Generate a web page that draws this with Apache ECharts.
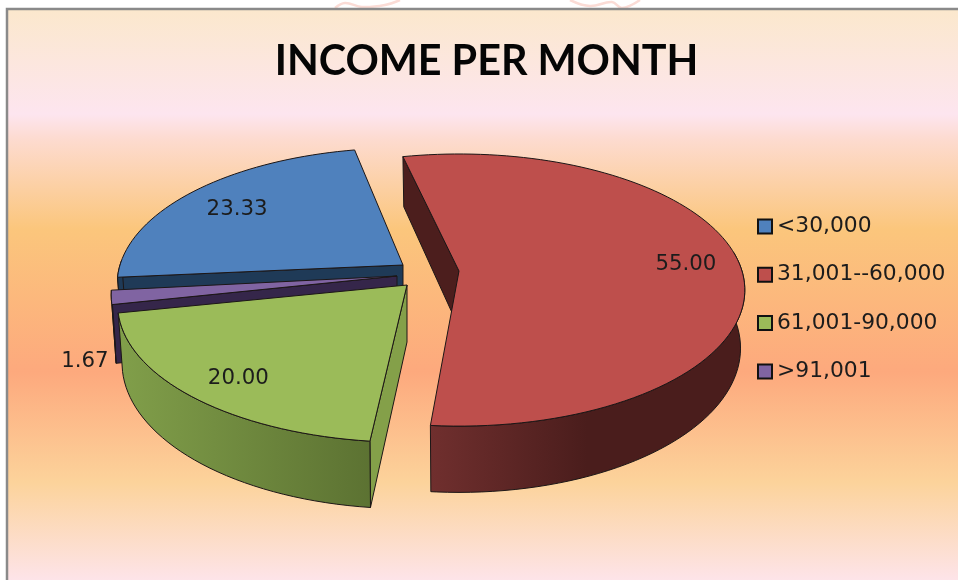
<!DOCTYPE html>
<html>
<head>
<meta charset="utf-8">
<style>
  html, body { margin: 0; padding: 0; background: #fff; }
  #main { width: 958px; height: 580px; }
</style>
<script src="https://cdn.jsdelivr.net/npm/echarts@6/dist/echarts.min.js"></script>
</head>
<body>
<div id="main"></div>
<script>
const categories = ['<30,000', '31,001--60,000', '61,001-90,000', '>91,001']
const percentValues = [23.33, 55.00, 20.00, 1.67]

const topColors = ['#4f81bd', '#be4f4c', '#9bbb59', '#8064a2']
const wallColors = [
  ['#1f3a57', '#1f3a57'],
  ['#702f2e', '#4a1d1c'],
  ['#819f4a', '#5c7232'],
  ['#35264a', '#35264a']
]
const radialColors = ['#1f3a57', '#4c1e1d', '#84a049', '#35264a']

// where each exploded slice has its tip, in px
const sliceTips = [[403, 265], [459, 271], [407, 285], [397, 276]]
// small per slice corrections, the picture has some distortion
const sliceTurn = [0.8, -1, 0.4, 0]
const sliceScale = [1, 1, 1.012, 1]
const labelRadius = [0.78, 0.81, 0.81, 1.09]
const labelDrop = [3, 1, 6, 62]
const drawOrder = [1, 4, 3, 2]

const firstAngle = 264
const radiusX = 283
const radiusY = 133.4
const perspective = 0.14
const depth = 57
const total = percentValues.reduce((a, b) => a + b, 0)

function topPoint (tip, deg, r) {
  const t = deg * Math.PI / 180
  const X = r * Math.sin(t)
  const Y = -r * Math.cos(t)
  const s = 1 / (1 - perspective * Y)
  return [tip[0] + radiusX * X * s, tip[1] + radiusY * Y * s]
}

function bottomPoint (tip, deg, r) {
  const t = deg * Math.PI / 180
  const X = r * Math.sin(t)
  const Y = -r * Math.cos(t)
  const s = 1 / (1 - perspective * Y)
  return [tip[0] + radiusX * X * s * 0.985, tip[1] + radiusY * Y * s + depth * s]
}

function range (from, to) {
  const out = []
  for (let d = from; d < to; d += 2) out.push(d)
  out.push(to)
  return out
}

const edge = { stroke: '#1c1616', lineWidth: 1 }

function renderSlice (params, api) {
  const i = params.seriesIndex
  const tip = sliceTips[i]
  const r = sliceScale[i]
  let start = firstAngle
  for (let k = 0; k < i; k++) start += percentValues[k] / total * 360
  const end = start + api.value(0) / total * 360 + sliceTurn[i]
  start += sliceTurn[i]
  const children = []

  // radial wall on the leading edge
  const nrm = (start - 90) * Math.PI / 180
  if (Math.cos(nrm) < 0) {
    children.push({
      type: 'polygon',
      shape: { points: [tip, topPoint(tip, start, r), bottomPoint(tip, start, r), [tip[0], tip[1] + depth]] },
      style: Object.assign({ fill: radialColors[i] }, edge)
    })
  }

  // outer curved wall, only the part turned to the viewer
  const segs = [[82, 272], [442, 632]]
  segs.forEach(function (seg) {
    const a = Math.max(start, seg[0])
    const b = Math.min(end, seg[1])
    if (b <= a) return
    const angles = range(a, b)
    const pts = angles.map(d => topPoint(tip, d, r))
      .concat(angles.slice().reverse().map(d => bottomPoint(tip, d, r)))
    children.push({
      type: 'polygon',
      shape: { points: pts },
      style: Object.assign({
        fill: {
          type: 'linear', x: 0, y: 0, x2: 1, y2: 0,
          colorStops: i === 1
            ? [{ offset: 0, color: wallColors[i][0] }, { offset: 0.5, color: wallColors[i][1] }, { offset: 1, color: wallColors[i][1] }]
            : [{ offset: 0, color: wallColors[i][0] }, { offset: 1, color: wallColors[i][1] }]
        }
      }, edge)
    })
  })

  // top face
  const face = [tip].concat(range(start, end).map(d => topPoint(tip, d, r)))
  children.push({
    type: 'polygon',
    shape: { points: face },
    style: Object.assign({ fill: topColors[i] }, edge)
  })

  // value label
  const mid = (start + end) / 2
  const lp = topPoint(tip, mid, labelRadius[i])
  children.push({
    type: 'text',
    x: lp[0],
    y: lp[1] + labelDrop[i],
    style: {
      text: api.value(0).toFixed(2),
      fill: '#1c1c1c',
      font: '21.3px "DejaVu Sans"',
      align: 'center',
      verticalAlign: 'middle'
    }
  })
  return { type: 'group', children: children }
}

const myChart = echarts.init(document.getElementById('main'))
myChart.setOption({
  animation: false,
  title: {
    text: 'INCOME PER MONTH',
    left: 481.5,
    top: 36,
    textAlign: 'center',
    textStyle: { fontFamily: 'Lato', fontSize: 41.3, fontWeight: 'bold', color: '#050505' }
  },
  legend: {
    orient: 'vertical',
    left: 752,
    top: 209.5,
    itemWidth: 14,
    itemHeight: 14,
    itemGap: 24.3,
    icon: 'rect',
    selectedMode: false,
    textStyle: { fontFamily: 'DejaVu Sans', fontSize: 21.8, color: '#1c1c1c', lineHeight: 24 },
    data: categories.map((name, i) => ({
      name: name,
      itemStyle: { color: topColors[i], borderColor: '#111', borderWidth: 2 }
    }))
  },
  graphic: [
    // faint sketch showing above the frame
    {
      type: 'polyline',
      z: -11,
      silent: true,
      shape: { points: [[335, 8], [345, 3], [362, 7], [385, 5], [400, 0]], smooth: 0.4 },
      style: { stroke: '#fbdcd6', lineWidth: 2.5, fill: null }
    },
    {
      type: 'polyline',
      z: -11,
      silent: true,
      shape: { points: [[570, 0], [590, 6], [612, 2], [622, 8], [640, 0]], smooth: 0.4 },
      style: { stroke: '#fbdcd6', lineWidth: 2.5, fill: null }
    },
    {
      type: 'rect',
      z: -10,
      silent: true,
      shape: { x: 7, y: 9, width: 960, height: 580 },
      style: {
        stroke: '#8a8a8a',
        lineWidth: 2.5,
        fill: {
          type: 'linear', x: 0, y: 0, x2: 0, y2: 1,
          colorStops: [
            { offset: 0, color: '#fbe8cc' },
            { offset: 0.183, color: '#fde5ef' },
            { offset: 0.225, color: '#fddbd0' },
            { offset: 0.38, color: '#fbc67c' },
            { offset: 0.625, color: '#fda97d' },
            { offset: 0.815, color: '#fcd39b' },
            { offset: 0.985, color: '#fde4ea' },
            { offset: 1, color: '#fde4ea' }
          ]
        }
      }
    }
  ],
  series: categories.map((name, i) => ({
    name: name,
    type: 'custom',
    coordinateSystem: 'none',
    z: drawOrder[i],
    itemStyle: { color: topColors[i] },
    renderItem: renderSlice,
    data: [[percentValues[i]]]
  }))
})
</script>
</body>
</html>
